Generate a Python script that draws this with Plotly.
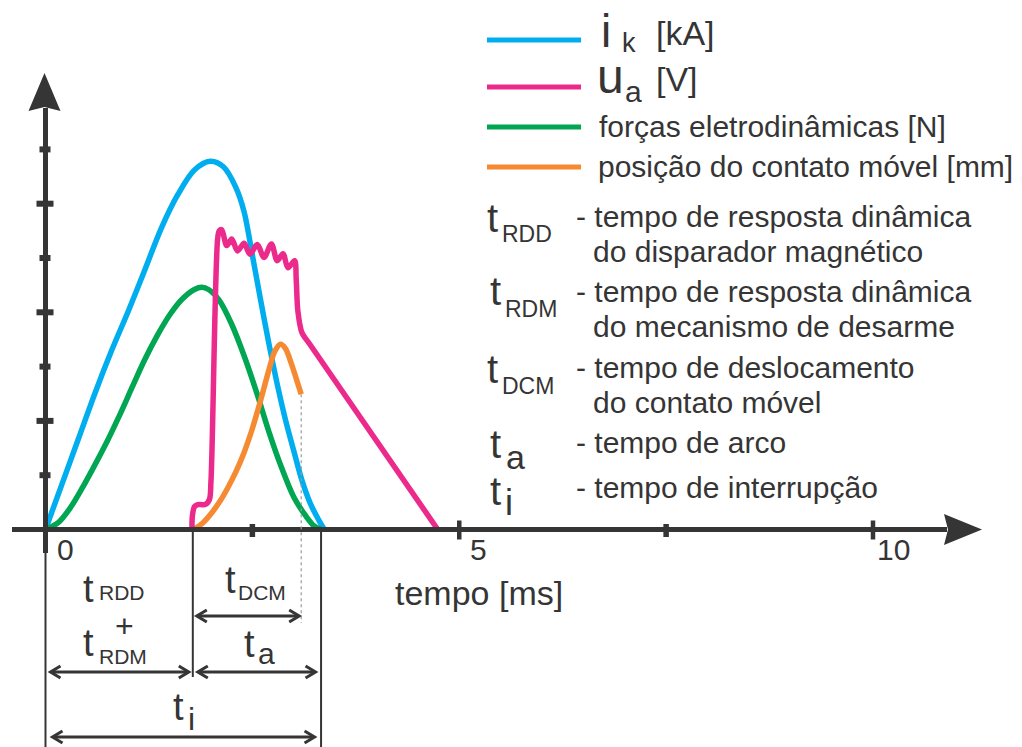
import plotly.graph_objects as go

# ---------------- data (time in ms, amplitude in relative grid units) ----------------
ik_t = [0.00, 0.20, 0.40, 0.60, 0.80, 1.00, 1.20, 1.40, 1.60, 1.80, 1.99, 2.15, 2.30, 2.40, 2.50,
        2.60, 2.70, 2.80, 2.90, 3.00, 3.10, 3.20, 3.30, 3.37]
ik_v = [0.00, 0.84, 1.68, 2.52, 3.30, 4.02, 4.78, 5.55, 6.17, 6.62, 6.78, 6.68, 6.30, 5.85, 5.05,
        4.22, 3.42, 2.68, 2.02, 1.45, 0.90, 0.48, 0.18, 0.00]

ua_t = [1.77, 1.775, 1.80, 1.84, 1.93, 1.98, 2.00, 2.08, 2.10, 2.13, 2.19, 2.25, 2.32, 2.40, 2.47, 2.56,
        2.64, 2.73, 2.80, 2.87, 2.93, 3.01, 3.03, 3.05, 3.10, 3.19, 4.74]
ua_v = [0.00, 0.25, 0.42, 0.46, 0.46, 0.55, 0.90, 5.35, 5.50, 5.52, 5.23, 5.35, 5.13, 5.27, 5.07, 5.25,
        5.01, 5.26, 4.95, 5.08, 4.82, 4.95, 4.60, 4.02, 3.62, 3.42, 0.00]

fe_t = [0.00, 0.15, 0.30, 0.45, 0.60, 0.75, 0.90, 1.05, 1.20, 1.35, 1.50, 1.65, 1.80, 1.89, 1.97,
        2.10, 2.25, 2.40, 2.55, 2.70, 2.85, 3.00, 3.15, 3.25, 3.33]
fe_v = [0.00, 0.12, 0.40, 0.78, 1.20, 1.64, 2.12, 2.63, 3.13, 3.57, 3.95, 4.24, 4.42, 4.46, 4.42,
        4.22, 3.78, 3.20, 2.53, 1.80, 1.15, 0.60, 0.24, 0.06, 0.00]

pc_t = [1.79, 1.90, 2.00, 2.10, 2.20, 2.30, 2.40, 2.50, 2.60, 2.70, 2.77, 2.84, 2.90, 2.97, 3.03, 3.09]
pc_v = [0.00, 0.12, 0.29, 0.50, 0.76, 1.06, 1.42, 1.86, 2.38, 2.94, 3.28, 3.41, 3.33, 3.06, 2.78, 2.49]

x_major_ticks = [0, 5, 10]
x_major_labels = ["0", "5", "10"]
x_minor_ticks = [2.5, 7.5]
y_ticks = [1, 2, 3, 4, 5, 6, 7]

# characteristic instants (ms): arc start, end of contact travel, interruption
t_arc_start = 1.78
t_dcm_end = 3.09
t_interrupt = 3.33
# intervals: tRDD+tRDM, tDCM, ta, ti
interval_start = [0.0, 1.78, 1.78, 0.0]
interval_end = [1.78, 3.09, 3.33, 3.33]

legend_labels = ["forças eletrodinâmicas [N]", "posição do contato móvel [mm]"]
glossary_subs = ["RDD", "RDM", "DCM", "a", "i"]
glossary_lines = [
    "- tempo de resposta dinâmica", "do disparador magnético",
    "- tempo de resposta dinâmica", "do mecanismo de desarme",
    "- tempo de deslocamento", "do contato móvel",
    "- tempo de arco",
    "- tempo de interrupção",
]

# ---------------- styling / geometry ----------------
W, H = 1022, 747
X0, SX = 45.5, 82.75
Y0, SY = 529.5, 54.3
DARK = "#353535"
FONT = "Liberation Sans, Arial, sans-serif"
C_BLUE, C_PINK, C_GREEN, C_ORANGE = "#00AEEF", "#EC2A8C", "#00A651", "#F68A33"


def dx(px):
    return (px - X0) / SX


def dy(py):
    return (Y0 - py) / SY


def px_of(x):
    return X0 + x * SX


fig = go.Figure()
for t, v, c, n in [(ik_t, ik_v, C_BLUE, "i_k"), (fe_t, fe_v, C_GREEN, "F"),
                   (pc_t, pc_v, C_ORANGE, "pos"), (ua_t, ua_v, C_PINK, "u_a")]:
    fig.add_trace(go.Scatter(x=t, y=v, mode="lines", name=n,
                             line=dict(color=c, width=5.5, shape="spline", smoothing=0.9),
                             hoverinfo="skip"))

shapes = []


def line(x0, y0, x1, y1, w, color=DARK, dash=None, ref=("x", "y")):
    d = dict(type="line", x0=x0, y0=y0, x1=x1, y1=y1, xref=ref[0], yref=ref[1],
             line=dict(color=color, width=w), layer="above")
    if dash:
        d["line"]["dash"] = dash
    shapes.append(d)


# x axis with arrow
line(dx(12), 0, dx(947), 0, 5)
shapes.append(dict(type="path", xref="x", yref="y", fillcolor=DARK, line=dict(width=0),
                   path=f"M {dx(944)},{dy(514)} L {dx(982)},0 L {dx(944)},{dy(545)} L {dx(948)},0 Z"))
# y axis with arrow
line(0, dy(553), 0, dy(108), 5)
shapes.append(dict(type="path", xref="x", yref="y", fillcolor=DARK, line=dict(width=0),
                   path=f"M {dx(28.5)},{dy(111)} L {dx(44.5)},{dy(73)} L {dx(60.5)},{dy(111)} L {dx(44.5)},{dy(107)} Z"))

for k in y_ticks:
    if k % 2 == 0:
        line(dx(36.5), k, dx(53.5), k, 6)
    else:
        line(dx(39.5), k, dx(50.5), k, 6)
for t in x_major_ticks[1:]:
    line(t, dy(520.5), t, dy(539.5), 4.5)
for t in x_minor_ticks:
    line(t, dy(524), t, dy(537), 5.5)

# vertical reference lines
line(0, dy(553), 0, dy(H), 2)
line(t_arc_start, 0, t_arc_start, dy(677), 2)
line(t_interrupt, 0, t_interrupt, dy(H), 2)
line(t_dcm_end, pc_v[-1], t_dcm_end, dy(623), 1.2, color="#9a9a9a", dash="3px,3px")


def double_arrow(xa, xb, ypx, gap_l, gap_r):
    xl = px_of(xa) + gap_l
    xr = px_of(xb) - gap_r
    y = dy(ypx)
    line(dx(xl + 1), y, dx(xr - 1), y, 3)
    for tip, s in [(xl, 1), (xr, -1)]:
        shapes.append(dict(type="path", xref="x", yref="y", line=dict(color=DARK, width=3),
                           path=f"M {dx(tip + s * 10)},{dy(ypx - 6)} L {dx(tip)},{y} L {dx(tip + s * 10)},{dy(ypx + 6)}"))


rows = [(672, 5, 4), (616, 4, 2), (672, 5, 5.5), (737, 7, 6.5)]
for a, b, (ypx, gl, gr) in zip(interval_start, interval_end, rows):
    double_arrow(a, b, ypx, gl, gr)

# legend lines
for ypx, c in [(40, C_BLUE), (87, C_PINK), (127, C_GREEN), (167, C_ORANGE)]:
    line(487 / W, 1 - ypx / H, 581 / W, 1 - ypx / H, 5, color=c, ref=("paper", "paper"))

annotations = []


def label(text, xl, base, size):
    annotations.append(dict(text=text, x=xl / W, y=1 - (base - 0.3465 * size) / H,
                            xref="paper", yref="paper", xanchor="left", yanchor="middle",
                            showarrow=False, borderpad=0,
                            font=dict(family=FONT, size=size, color=DARK)))


# legend texts
label("i", 600, 47, 46)
label("k", 621, 52, 27)
label("[kA]", 654.5, 45, 34)
label("u", 595.5, 93, 48)
label("a", 624, 102, 30)
label("[V]", 654.5, 91, 34)
label(legend_labels[0], 597.5, 137, 30)
label(legend_labels[1], 596.5, 177, 30)

# glossary
t_pos = [(486, 231.7, 501, 241.7, 23), (489, 305, 503.5, 316.7, 23), (486, 383.3, 501, 394, 23),
         (489, 458.3, 505, 468.3, 34), (489, 505, 504, 515, 36)]
for sub, (tx, tb, sx, sb, ss) in zip(glossary_subs, t_pos):
    label("t", tx, tb, 40)
    label(sub, sx, sb, ss)
g_pos = [(574.5, 226.7), (592, 261.7), (574.5, 301.7), (592, 336.7), (574.5, 378.3), (592, 413.3),
         (574.5, 453.3), (574.5, 498.3)]
for txt, (gx, gb) in zip(glossary_lines, g_pos):
    label(txt, gx, gb, 30)

# axis labels
for t, lab in zip(x_major_ticks, x_major_labels):
    label(lab, px_of(t) + (10.5 if t == 0 else 10 if t == 5 else 2.5), 560, 30)
label("tempo [ms]", 393.5, 605, 34)

# interval labels
label("t", 82, 602, 38)
label("RDD", 97.6, 600, 21)
label("+", 113.5, 637, 32)
label("t", 82, 656, 38)
label("RDM", 97.6, 664, 21)
label("t", 224, 593, 38)
label("DCM", 237, 600, 21)
label("t", 243, 657, 38)
label("a", 257, 664, 30)
label("t", 172, 720, 38)
label("i", 187, 730, 32)

fig.update_layout(
    width=W, height=H, margin=dict(l=0, r=0, t=0, b=0),
    paper_bgcolor="white", plot_bgcolor="white", showlegend=False,
    xaxis=dict(range=[dx(0), dx(W)], visible=False, fixedrange=True),
    yaxis=dict(range=[dy(H), dy(0)], visible=False, fixedrange=True),
    shapes=shapes, annotations=annotations,
)
fig.write_html("out.html")
